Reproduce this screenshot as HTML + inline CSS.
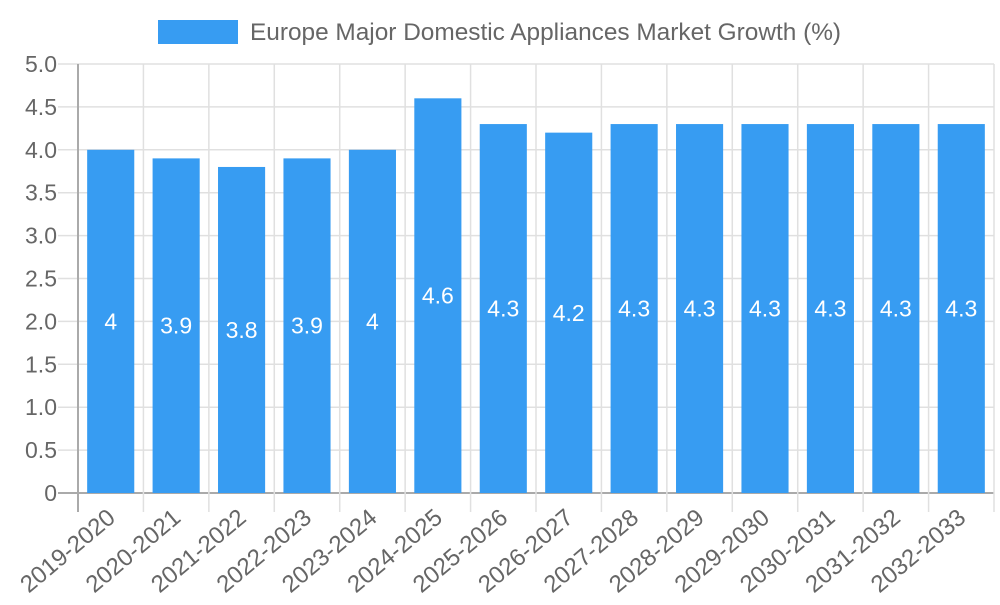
<!DOCTYPE html>
<html><head><meta charset="utf-8"><style>
body{margin:0;background:#fff;}
svg text{font-family:"Liberation Sans",sans-serif;}
</style></head><body>
<svg id="chart" width="1000" height="600" xmlns="http://www.w3.org/2000/svg">
<rect x="158" y="20" width="80" height="24" fill="#379cf2"/>
<text x="250" y="40" font-size="24.4" fill="#666">Europe Major Domestic Appliances Market Growth (%)</text>
<g id="grid"></g><g id="bars"></g><g id="labels"></g>
</svg>
<script>
const categories=["2019-2020","2020-2021","2021-2022","2022-2023","2023-2024","2024-2025","2025-2026","2026-2027","2027-2028","2028-2029","2029-2030","2030-2031","2031-2032","2032-2033"];
const values=[4,3.9,3.8,3.9,4,4.6,4.3,4.2,4.3,4.3,4.3,4.3,4.3,4.3];
const yTicks=[0,0.5,1,1.5,2,2.5,3,3.5,4,4.5,5];
const yTickLabels=["0","0.5","1.0","1.5","2.0","2.5","3.0","3.5","4.0","4.5","5.0"];
const NS="http://www.w3.org/2000/svg";
const L=78,R=994,T=64,B=493,yMax=5;
const step=(R-L)/categories.length;
const y=v=>B-(v/yMax)*(B-T);
const x=i=>L+i*step;
function mk(tag,attrs,parent){const e=document.createElementNS(NS,tag);for(const k in attrs)e.setAttribute(k,attrs[k]);parent.appendChild(e);return e;}
const grid=document.getElementById('grid'),bars=document.getElementById('bars'),labels=document.getElementById('labels');
yTicks.forEach((t,i)=>{
  const ln=mk('line',{x1:58,x2:R,y1:y(t),y2:y(t),stroke:t===0?'#aaa':'#e0e0e0','stroke-width':t===0?2:1.5},grid);
  
  
  const tx=mk('text',{x:57,y:y(t)+8,'text-anchor':'end','font-size':23,fill:'#666'},labels);
  tx.textContent=yTickLabels[i];
  
  
});
for(let i=0;i<=categories.length;i++){
  const ln=mk('line',{x1:x(i),x2:x(i),y1:T,y2:512,stroke:i===0?'#aaa':'#e0e0e0','stroke-width':i===0?2:1.5},grid);
  
  
}
categories.forEach((c,i)=>{
  const bw=step*0.72,cx=x(i)+step/2;
  const r=mk('rect',{x:cx-bw/2,y:y(values[i]),width:bw,height:B-y(values[i]),fill:'#379cf2'},bars);
  
  
  const v=mk('text',{x:cx,y:(y(values[i])+B)/2+8,'text-anchor':'middle','font-size':23,fill:'#fff'},labels);
  v.textContent=String(values[i]);
  
  
  const t=mk('text',{x:cx+6,y:520,'text-anchor':'end','font-size':24,fill:'#666',transform:`rotate(-40 ${cx+6} 520)`},labels);
  t.textContent=c;
  
  
});
</script>
</body></html>
